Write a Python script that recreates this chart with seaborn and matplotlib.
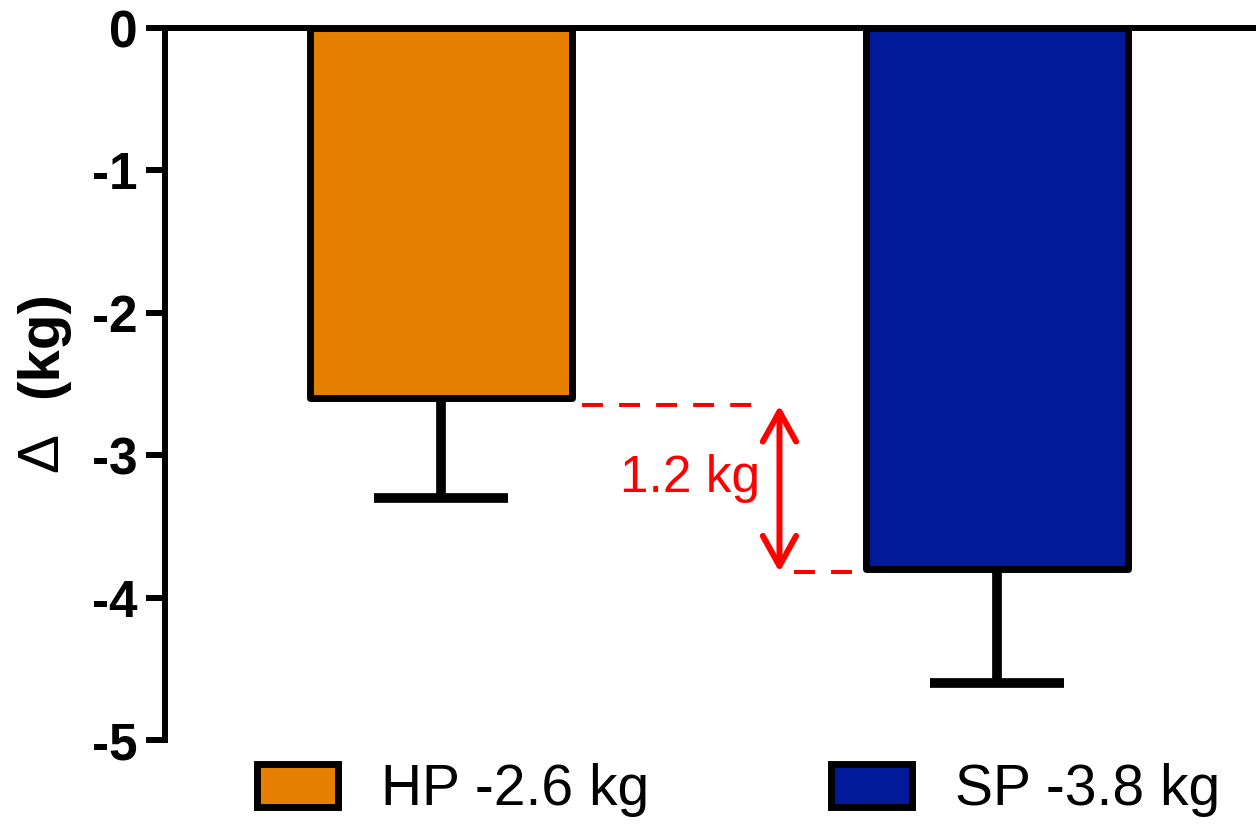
import matplotlib
matplotlib.use("Agg")
import matplotlib.pyplot as plt
import seaborn as sns
from matplotlib.patches import Patch

# ---- data ----
groups = ["HP", "SP"]
means = [-2.6, -3.8]
lower_err = [0.7, 0.8]
legend_labels = ["HP -2.6 kg", "SP -3.8 kg"]
colors = ["#E67E00", "#001A99"]
yticks = [0, -1, -2, -3, -4, -5]
ytick_labels = ["0", "-1", "-2", "-3", "-4", "-5"]
diff_label = "1.2 kg"

sns.set_style("white")
plt.rcParams["font.family"] = ["Liberation Sans", "DejaVu Sans"]
plt.rcParams["axes.unicode_minus"] = False
plt.rcParams["text.color"] = "black"
plt.rcParams["ytick.color"] = "black"
plt.rcParams["ytick.labelcolor"] = "black"

fig = plt.figure(figsize=(12.56, 8.24), dpi=100)
ax = fig.add_axes([0.1314, 0.1019, 0.8686, 0.864])

sns.barplot(x=groups, y=means, hue=groups, palette=colors, width=0.47,
            saturation=1, edgecolor="black", linewidth=5, errorbar=None,
            legend=False, ax=ax)
for p in ax.patches:
    p.set_joinstyle("round")

eb = ax.errorbar([0, 1], means, yerr=[lower_err, [0, 0]], fmt="none",
                 ecolor="black", elinewidth=7, capsize=48.5, capthick=7,
                 zorder=1)
# hide the zero-length upper caps sitting at the bar ends
if len(eb[1]) > 1:
    eb[1][1].set_visible(False)

ax.set_xlim(-0.496, 1.466)
ax.set_ylim(-5, 0)
ax.set_yticks(yticks)
ax.set_yticklabels(ytick_labels, fontsize=37, fontweight="bold", color="black")
ax.set_xticks([])
ax.set_xlabel("")
ax.tick_params(axis="y", length=14, width=4.3, pad=6, left=True,
               color="black", labelcolor="black")

for s in ["right", "bottom"]:
    ax.spines[s].set_visible(False)
for s in ["left", "top"]:
    ax.spines[s].set_visible(True)
    ax.spines[s].set_linewidth(4.3)
    ax.spines[s].set_color("black")

# difference annotation
ax.plot([0.254, 0.564], [means[0] - 0.045, means[0] - 0.045], color="red",
        lw=2.9, dashes=(5.2, 4), solid_capstyle="butt")
ax.plot([0.636, 0.745], [means[1] - 0.02, means[1] - 0.02], color="red",
        lw=2.9, dashes=(5.2, 4), solid_capstyle="butt")
ax.annotate("", xy=(0.609, means[0] - 0.05), xytext=(0.609, means[1] - 0.02),
            arrowprops=dict(arrowstyle="<->,head_length=0.72,head_width=0.4",
                            color="red", lw=4.3, mutation_scale=30,
                            shrinkA=0, shrinkB=0, capstyle="round",
                            joinstyle="round"))
ax.text(0.449, -3.16, diff_label, color="red", fontsize=37,
        ha="center", va="center")

# y label: thin delta + bold (kg)
fig.text(42 / 1256, 1 - 345 / 824, "(kg)", rotation=90, fontsize=42,
         fontweight="bold", ha="center", va="center", color="black")
fig.text(42 / 1256, 1 - 452 / 824, "Δ", rotation=90, fontsize=42,
         ha="center", va="center", color="black")

handles = [Patch(facecolor=c, edgecolor="black", linewidth=5, joinstyle="round")
           for c in colors]
fig.legend(handles, legend_labels, loc="center", bbox_to_anchor=(0.588, 0.041),
           ncol=2, frameon=False, fontsize=41, handlelength=1.42,
           handleheight=0.78, handletextpad=0.75, columnspacing=3.2,
           borderpad=0, borderaxespad=0, labelcolor="black")

fig.savefig("out.png", dpi=100)
